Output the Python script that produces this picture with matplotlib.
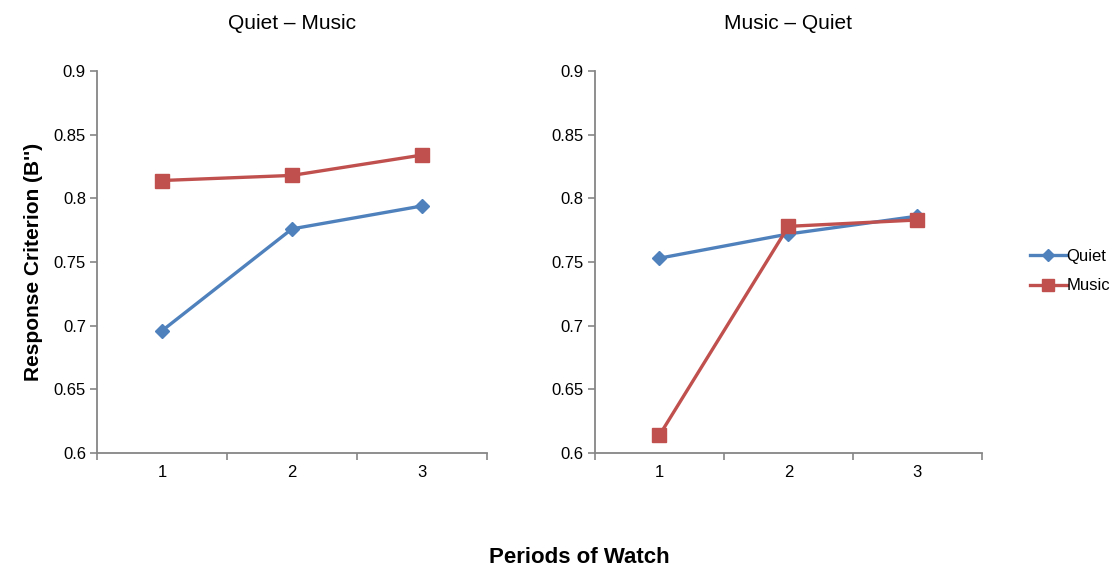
import matplotlib
matplotlib.use("Agg")
import matplotlib.pyplot as plt
from matplotlib.lines import Line2D

plt.rcParams['font.family'] = ['Liberation Sans', 'DejaVu Sans']

periods = [1, 2, 3]
period_labels = ["1", "2", "3"]
titles = ["Quiet \u2013 Music", "Music \u2013 Quiet"]
quiet_qm = [0.696, 0.776, 0.794]
music_qm = [0.814, 0.818, 0.834]
quiet_mq = [0.753, 0.772, 0.786]
music_mq = [0.614, 0.778, 0.783]
yticks = [0.6, 0.65, 0.7, 0.75, 0.8, 0.85, 0.9]
ytick_labels = ["0.6", "0.65", "0.7", "0.75", "0.8", "0.85", "0.9"]

blue = "#4F81BD"
red = "#C0504D"
axis_gray = "#868686"

fig = plt.figure(figsize=(11.19, 5.69), dpi=100)
ax1 = fig.add_axes([0.0867, 0.2039, 0.3485, 0.6713])
ax2 = fig.add_axes([0.5317, 0.2039, 0.3458, 0.6713])

for ax, title, q, m in [(ax1, titles[0], quiet_qm, music_qm), (ax2, titles[1], quiet_mq, music_mq)]:
    ax.plot(periods, q, color=blue, lw=2.4, marker='D', markersize=7, label="Quiet", zorder=3)
    ax.plot(periods, m, color=red, lw=2.4, marker='s', markersize=9.5, label="Music", zorder=3)
    ax.set_xlim(0.5, 3.5)
    ax.set_ylim(0.6, 0.9)
    ax.set_yticks(yticks)
    ax.set_yticklabels(ytick_labels)
    ax.set_xticks([0.5, 1.5, 2.5, 3.5])
    ax.set_xticklabels([])
    ax.set_xticks(periods, minor=True)
    ax.set_xticklabels(period_labels, minor=True)
    ax.tick_params(axis='x', which='minor', length=0, pad=9, labelsize=12)
    ax.tick_params(axis='x', which='major', length=5, color=axis_gray, width=1.2, direction='out')
    ax.tick_params(axis='y', length=5, color=axis_gray, width=1.2, direction='out', labelsize=12, pad=3)
    for s in ['top', 'right']:
        ax.spines[s].set_visible(False)
    for s in ['left', 'bottom']:
        ax.spines[s].set_color(axis_gray)
        ax.spines[s].set_linewidth(1.3)
    ax.set_title(title, fontsize=15, pad=30)

ax1.set_ylabel("Response Criterion (B'')", fontsize=15, fontweight='bold', labelpad=8)
fig.text(0.518, 0.002, "Periods of Watch", fontsize=16, fontweight='bold', ha='center', va='bottom')

handles = [Line2D([], [], color=blue, lw=2.4, marker='D', markersize=6),
           Line2D([], [], color=red, lw=2.4, marker='s', markersize=9)]
fig.legend(handles, ["Quiet", "Music"], loc='center left', bbox_to_anchor=(0.91, 0.523),
           frameon=False, fontsize=12, handlelength=2.2, handletextpad=0.0,
           labelspacing=0.85, borderpad=0.2)

fig.savefig("out.png", dpi=100)
